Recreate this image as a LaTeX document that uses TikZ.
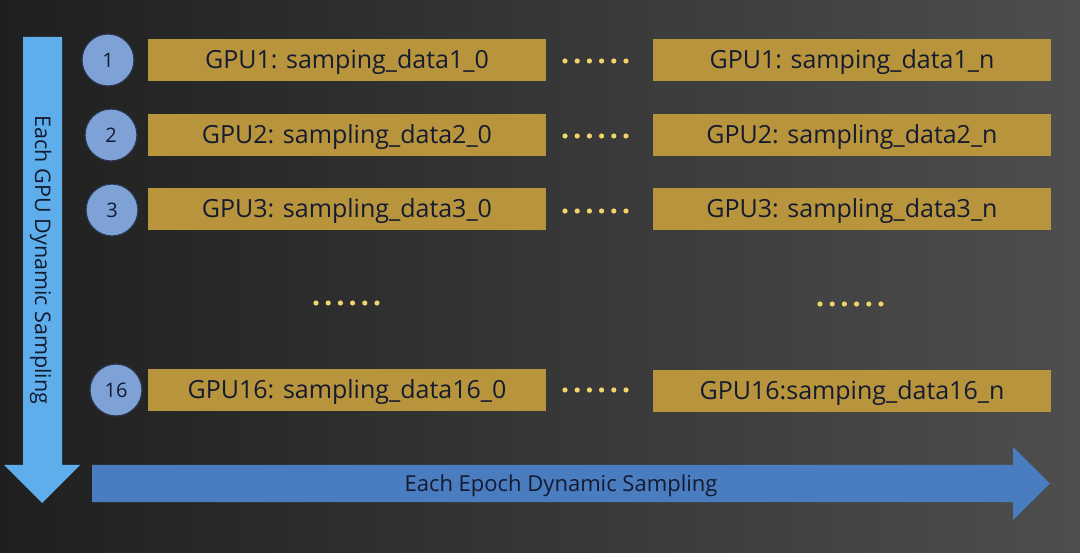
\documentclass[tikz,border=0pt]{standalone}
\usepackage{fontspec}
\setmainfont{Open Sans}
\usetikzlibrary{shapes.arrows}
\definecolor{bgl}{HTML}{1F1F1F}
\definecolor{bgr}{HTML}{4E4E4E}
\definecolor{gold}{HTML}{B8953C}
\definecolor{navy}{HTML}{141A30}
\definecolor{circfill}{HTML}{7FA2D6}
\definecolor{circline}{HTML}{2A3550}
\definecolor{varrow}{HTML}{5DAEEA}
\definecolor{harrow}{HTML}{4A7CC0}
\definecolor{dotc}{HTML}{F2D56A}
\tikzset{
  gbox/.style={fill=gold, minimum width=398pt, minimum height=42pt, inner sep=0pt, text=navy, font=\fontsize{25}{28}\selectfont, text height=17pt, text depth=0pt},
  numc/.style={circle, fill=circfill, draw=circline, line width=1.2pt, minimum size=52pt, inner sep=0pt, text=navy, font=\fontsize{20}{22}\selectfont},
  atext/.style={text=navy, font=\fontsize{22}{24}\selectfont, text height=15pt, text depth=0pt},
  dotd/.style={fill=dotc, draw=none},
}
\newcommand{\dotrow}[2]{\foreach \k in {0,...,5} {\fill[dotd] (#1+\k*12.2,#2) circle (2.6pt);}}
\begin{document}
\begin{tikzpicture}[x=1pt,y=-1pt]
\shade[left color=bgl, right color=bgr] (0,0) rectangle (1080,553);
\useasboundingbox (0,0) rectangle (1080,553);
% vertical arrow
\fill[varrow] (23,37) -- (62,37) -- (62,465) -- (80,465) -- (42,503) -- (4,465) -- (23,465) -- cycle;
\node[rotate=-90, atext, font=\fontsize{21.5}{24}\selectfont] (vt) at (42.5,260) {Each GPU Dynamic Sampling};
% horizontal arrow
\fill[harrow] (92,465) -- (1013,465) -- (1013,447) -- (1050,483.5) -- (1013,520) -- (1013,502) -- (92,502) -- cycle;
\node[atext] (ht) at (561,483.5) {Each Epoch Dynamic Sampling};
% circles
\node[numc] (c1) at (108,60) {1};
\node[numc] (c2) at (111,135) {2};
\node[numc] (c3) at (112,210) {3};
\node[numc] (c16) at (116,390) {16};
% boxes
\node[gbox] (l1) at (347,60) {GPU1: samping\_data1\_0};
\node[gbox] (r1) at (852,60.5) {GPU1: samping\_data1\_n};
\node[gbox] (l2) at (347,135) {GPU2: sampling\_data2\_0};
\node[gbox] (r2) at (852,135.5) {GPU2: sampling\_data2\_n};
\node[gbox] (l3) at (347,209) {GPU3: sampling\_data3\_0};
\node[gbox] (r3) at (852,209.5) {GPU3: sampling\_data3\_n};
\node[gbox] (l16) at (347,390) {GPU16: sampling\_data16\_0};
\node[gbox] (r16) at (852,391) {GPU16:samping\_data16\_n};
% dots
\dotrow{565}{61}
\dotrow{565}{136}
\dotrow{565}{211}
\dotrow{565}{390}
\dotrow{316}{303}
\dotrow{820}{304}
\end{tikzpicture}
\end{document}
